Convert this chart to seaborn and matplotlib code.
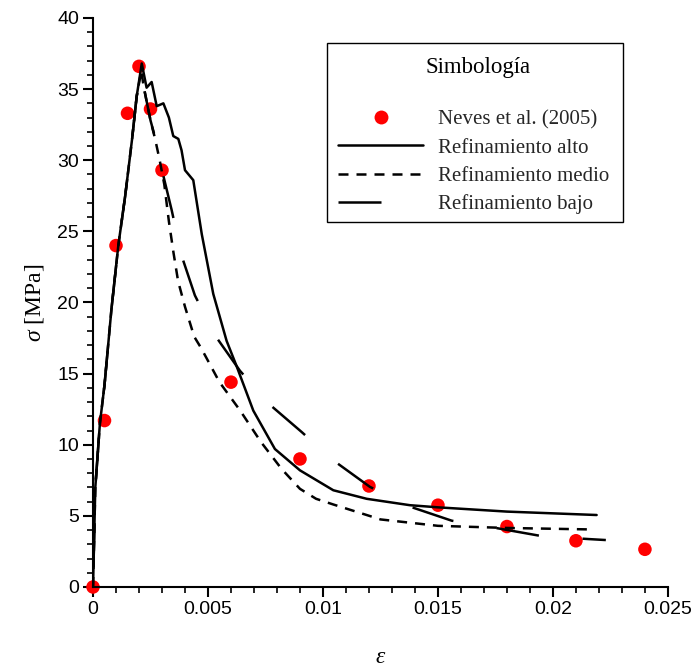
import numpy as np
import pandas as pd
import matplotlib
matplotlib.use("Agg")
import matplotlib.pyplot as plt
import seaborn as sns
from matplotlib.ticker import MultipleLocator, FixedLocator, FixedFormatter
from matplotlib.lines import Line2D
from matplotlib.patches import Rectangle

# ---------------- data ----------------
neves_eps = [0.0, 0.0005, 0.001, 0.0015, 0.002, 0.0025, 0.003, 0.006, 0.009, 0.012, 0.015, 0.018, 0.021, 0.024]
neves_sig = [0.0, 11.7, 24.0, 33.3, 36.6, 33.6, 29.3, 14.4, 9.0, 7.1, 5.75, 4.25, 3.25, 2.65]

alto_eps = [0.0, 0.0001, 0.0003, 0.0005, 0.0008, 0.0011, 0.0014, 0.0017, 0.0019, 0.00212,
            0.00233, 0.00255, 0.00277, 0.00306, 0.0033, 0.00349, 0.00371, 0.00385, 0.0040,
            0.00436, 0.00473, 0.00523, 0.00581, 0.00625, 0.00697, 0.00791, 0.009, 0.01045,
            0.0119, 0.01378, 0.015, 0.018, 0.0219]
alto_sig = [0.0, 7.0, 11.5, 14.2, 19.5, 24.0, 27.5, 31.5, 34.5, 36.8,
            35.1, 35.5, 33.8, 34.0, 33.0, 31.7, 31.5, 30.7, 29.3,
            28.6, 24.8, 20.6, 17.3, 15.5, 12.4, 9.7, 8.2, 6.8,
            6.2, 5.75, 5.6, 5.3, 5.06]

medio_eps = [0.0, 0.0001, 0.0003, 0.0005, 0.0008, 0.0011, 0.0014, 0.0017, 0.0019, 0.0021,
             0.0022, 0.0025, 0.0027, 0.0029, 0.0031, 0.0033, 0.0035, 0.0037, 0.0040, 0.0044,
             0.0047, 0.0055, 0.0064, 0.0073, 0.0082, 0.009, 0.0097, 0.01045, 0.0119, 0.0125,
             0.015, 0.018, 0.0215]
medio_sig = [0.0, 7.0, 11.5, 14.2, 19.5, 24.0, 27.5, 31.5, 34.5, 36.3,
             35.2, 32.8, 31.5, 30.0, 28.3, 25.7, 23.5, 21.5, 19.7, 17.6,
             16.8, 14.4, 12.4, 10.2, 8.3, 6.9, 6.2, 5.8, 5.06, 4.75,
             4.3, 4.15, 4.05]

bajo_eps = [0.0, 0.0001, 0.0003, 0.0005, 0.0008, 0.0011, 0.0014, 0.0017, 0.0019, 0.0021,
            0.0022, 0.0025, 0.0028, 0.00306, 0.00342, 0.00385, 0.00443, 0.0053, 0.00639,
            0.0077, 0.00907, 0.01045, 0.01204, 0.0138, 0.0156, 0.01762, 0.0195, 0.02154, 0.0223]
bajo_sig = [0.0, 7.0, 11.5, 14.2, 19.5, 24.0, 27.5, 31.5, 34.5, 36.3,
            35.2, 32.8, 31.0, 28.9, 26.5, 23.3, 20.5, 17.7, 15.2,
            12.8, 10.9, 8.9, 7.04, 5.64, 4.66, 4.12, 3.58, 3.37, 3.3]

xticks = [0.0, 0.005, 0.01, 0.015, 0.02, 0.025]
xtick_labels = ["0", "0.005", "0.01", "0.015", "0.02", "0.025"]
yticks = [0, 5, 10, 15, 20, 25, 30, 35, 40]
ytick_labels = ["0", "5", "10", "15", "20", "25", "30", "35", "40"]

legend_title = "Simbología"
legend_labels = ["Neves et al. (2005)", "Refinamiento alto", "Refinamiento medio", "Refinamiento bajo"]

# ---------------- style ----------------
sns.set_theme(style="ticks")
plt.rcParams["font.family"] = ["Liberation Sans", "DejaVu Sans"]
plt.rcParams["mathtext.fontset"] = "custom"
plt.rcParams["mathtext.it"] = "Liberation Serif:italic"
plt.rcParams["mathtext.rm"] = "Liberation Serif"

LW = 1.8
MEDIO_LS = (0, (4.0, 3.2))
BAJO_LS = (26.8, (17.2, 17.5))

fig = plt.figure(figsize=(6.91, 6.71), dpi=100)
ax = fig.add_axes([0.1346, 0.1252, 0.832, 0.848])

neves = pd.DataFrame({"eps": neves_eps, "sig": neves_sig})
alto = pd.DataFrame({"eps": alto_eps, "sig": alto_sig})
medio = pd.DataFrame({"eps": medio_eps, "sig": medio_sig})
bajo = pd.DataFrame({"eps": bajo_eps, "sig": bajo_sig})

sns.scatterplot(data=neves, x="eps", y="sig", ax=ax, color="#ff0000", s=95,
                edgecolor="none", linewidth=0, zorder=2, clip_on=False, legend=False)
sns.lineplot(data=alto, x="eps", y="sig", ax=ax, color="black", lw=LW,
             sort=False, estimator=None, zorder=3)
sns.lineplot(data=medio, x="eps", y="sig", ax=ax, color="black", lw=LW,
             linestyle=MEDIO_LS, sort=False, estimator=None, zorder=3)
sns.lineplot(data=bajo, x="eps", y="sig", ax=ax, color="black", lw=LW,
             linestyle=BAJO_LS, sort=False, estimator=None, zorder=3)

ax.set_xlim(0, 0.025)
ax.set_ylim(0, 40)
ax.xaxis.set_major_locator(FixedLocator(xticks))
ax.xaxis.set_major_formatter(FixedFormatter(xtick_labels))
ax.yaxis.set_major_locator(FixedLocator(yticks))
ax.yaxis.set_major_formatter(FixedFormatter(ytick_labels))
ax.xaxis.set_minor_locator(MultipleLocator(0.001))
ax.yaxis.set_minor_locator(MultipleLocator(1))

for s in ["top", "right"]:
    ax.spines[s].set_visible(False)
for s in ["left", "bottom"]:
    ax.spines[s].set_linewidth(1.5)
    ax.spines[s].set_color("black")

ax.tick_params(which="major", direction="out", length=7, width=1.5, color="black",
               labelsize=14, labelcolor="black", pad=3)
ax.tick_params(which="minor", direction="out", length=4, width=1.2, color="black")

ax.set_xlabel(r"$\varepsilon$", fontsize=17, family="Liberation Serif", labelpad=21, color="black")
ax.set_ylabel(r"$\sigma$ [MPa]", fontsize=17, family="Liberation Serif", labelpad=8, color="black")

# legend frame and title
ax.add_patch(Rectangle((0.40696, 0.64148), 0.51478, 0.31458, transform=ax.transAxes,
                       facecolor="white", edgecolor="black", lw=1.0, zorder=4, clip_on=False))
ax.text(0.6704, 0.9033, legend_title, transform=ax.transAxes, ha="center", va="baseline",
        fontsize=16.5, family="Liberation Serif", color="black", zorder=5)

handles = [
    Line2D([], [], marker="o", linestyle="none", color="#ff0000", markersize=10, markeredgewidth=0),
    Line2D([], [], color="black", lw=LW),
    Line2D([], [], color="black", lw=LW, linestyle=(0, MEDIO_LS[1])),
    Line2D([], [], color="black", lw=LW, linestyle=(0, BAJO_LS[1])),
]
leg = ax.legend(handles, legend_labels, loc="upper left",
                bbox_to_anchor=(0.4261, 0.8383), borderaxespad=0, borderpad=0,
                frameon=False, prop={"family": "Liberation Serif", "size": 15},
                handlelength=4.1, handletextpad=0.7, labelspacing=0.41)
leg.set_zorder(6)

fig.savefig("out.png", dpi=100, facecolor="white")
